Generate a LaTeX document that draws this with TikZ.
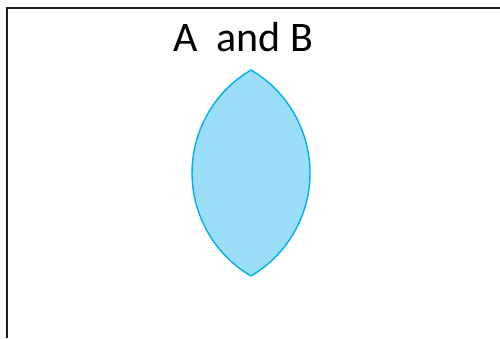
\documentclass[tikz,border=0pt]{standalone}
\usepackage{fontspec}
\setmainfont{Carlito}
\definecolor{lensfill}{RGB}{155,222,248}
\definecolor{lensline}{RGB}{0,174,239}
\definecolor{framecol}{RGB}{30,30,30}
\begin{document}
\begin{tikzpicture}[x=1pt,y=1pt,
  framestyle/.style={draw=framecol,line width=1.4pt},
  lensstyle/.style={fill=lensfill,draw=lensline,line width=1.4pt,line join=round}]
\useasboundingbox (0,0) rectangle (500,338);
\coordinate (fbl) at (7,0);
\coordinate (ftl) at (7,330);
\coordinate (ftr) at (500,330);
\draw[framestyle] (fbl) -- (ftl) -- (ftr);
\coordinate (ltop) at (251,268);
\path[lensstyle] (ltop) arc[start angle=59.6,end angle=-59.6,radius=119.4pt]
  arc[start angle=239.6,end angle=120.4,radius=119.4pt] -- cycle;
\node[anchor=base,inner sep=0pt,font=\fontsize{42}{48}\selectfont] (title) at (243,286) {A\ \ and B};
\end{tikzpicture}
\end{document}
